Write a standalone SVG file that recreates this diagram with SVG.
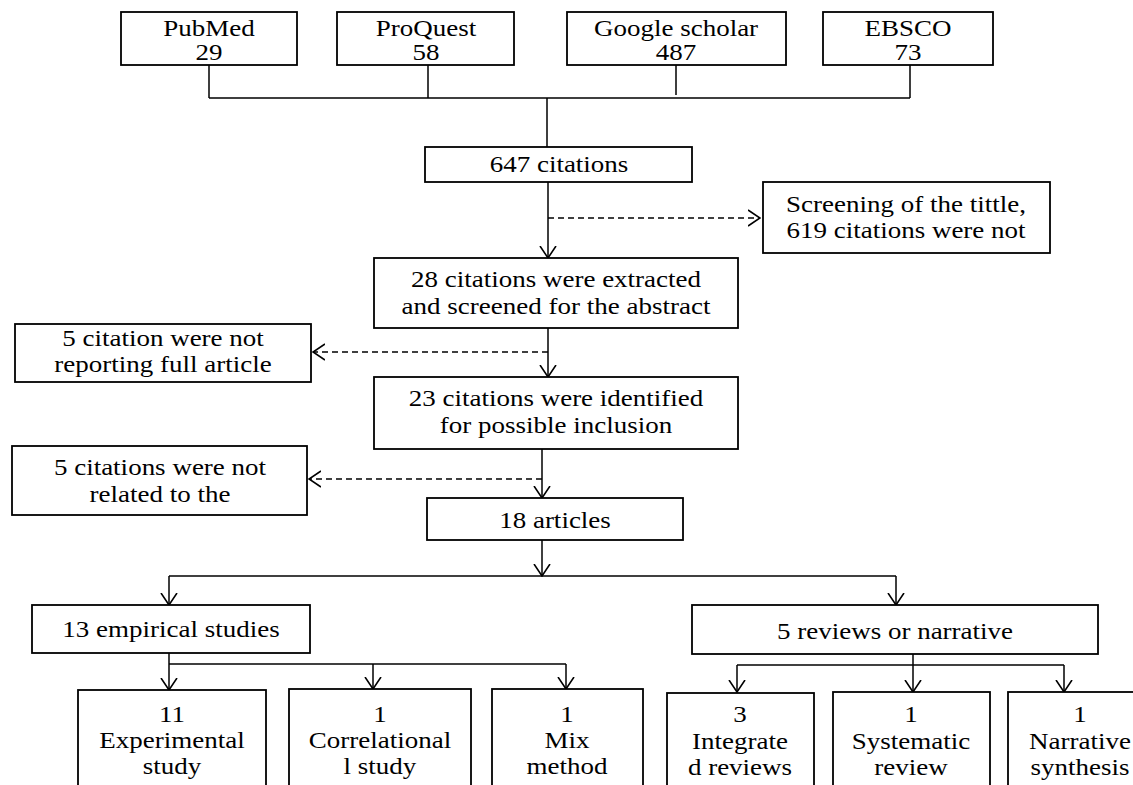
<svg xmlns="http://www.w3.org/2000/svg" width="1133" height="785" viewBox="0 0 1133 785">
<style>
.box{fill:#fff;stroke:#000;stroke-width:1.8}
.t{font-family:"Liberation Serif","Times New Roman",serif;font-size:23px;fill:#000;text-anchor:middle}
.ln{fill:none;stroke:#000;stroke-width:1.5}
.ar{fill:none;stroke:#000;stroke-width:1.5;marker-end:url(#arr)}
.da{fill:none;stroke:#000;stroke-width:1.5;stroke-dasharray:6 4;marker-end:url(#arr)}
</style>
<defs>
<marker id="arr" markerUnits="userSpaceOnUse" viewBox="0 0 13 18" refX="12" refY="9" markerWidth="13" markerHeight="18" orient="auto">
<path d="M0,1 L12,9 L0,17" fill="none" stroke="#000" stroke-width="1.6"/>
</marker>
</defs>
<rect width="1133" height="785" fill="#fff"/>

<g id="connectors">
<path class="ln" d="M209,65 V98 M428,65 V98 M676,65 V95 M910,65 V98 M209,98 H910 M547,98 V147"/>
<path class="ar" d="M548,182 V258"/>
<path class="da" d="M548,218 H760"/>
<path class="ar" d="M548,328 V377"/>
<path class="da" d="M548,352 H313"/>
<path class="ar" d="M542,449 V498"/>
<path class="da" d="M542,479 H309"/>
<path class="ar" d="M542,540 V576"/>
<path class="ln" d="M169,576 H896"/>
<path class="ar" d="M169,576 V605"/>
<path class="ar" d="M896,576 V605"/>
<path class="ar" d="M169,653 V690"/>
<path class="ln" d="M169,664 H566"/>
<path class="ar" d="M373,664 V689"/>
<path class="ar" d="M566,664 V689"/>
<path class="ar" d="M913,654 V692"/>
<path class="ln" d="M737,665 H1064"/>
<path class="ar" d="M737,665 V692"/>
<path class="ar" d="M1064,665 V692"/>
</g>

<g id="pubmed"><rect class="box" x="121" y="12" width="176" height="53"/>
<text class="t" transform="translate(209,0) scale(1.174,1)"><tspan x="0" y="36">PubMed</tspan><tspan x="0" y="60">29</tspan></text></g>
<g id="proquest"><rect class="box" x="337" y="12" width="177" height="53"/>
<text class="t" transform="translate(426,0) scale(1.174,1)"><tspan x="0" y="36">ProQuest</tspan><tspan x="0" y="60">58</tspan></text></g>
<g id="google"><rect class="box" x="567" y="12" width="219" height="53"/>
<text class="t" transform="translate(676,0) scale(1.174,1)"><tspan x="0" y="36">Google scholar</tspan><tspan x="0" y="60">487</tspan></text></g>
<g id="ebsco"><rect class="box" x="823" y="12" width="170" height="53"/>
<text class="t" transform="translate(908,0) scale(1.174,1)"><tspan x="0" y="36">EBSCO</tspan><tspan x="0" y="60">73</tspan></text></g>

<g id="n647"><rect class="box" x="425" y="147" width="267" height="35"/>
<text class="t" transform="translate(559,0) scale(1.174,1)"><tspan x="0" y="172">647 citations</tspan></text></g>

<g id="screening"><rect class="box" x="763" y="182" width="287" height="71"/>
<text class="t" transform="translate(906,0) scale(1.174,1)"><tspan x="0" y="212">Screening of the tittle,</tspan><tspan x="0" y="238">619 citations were not</tspan></text></g>

<g id="n28"><rect class="box" x="374" y="258" width="364" height="70"/>
<text class="t" transform="translate(556,0) scale(1.174,1)"><tspan x="0" y="287">28 citations were extracted</tspan><tspan x="0" y="314">and screened for the abstract</tspan></text></g>

<g id="excl1"><rect class="box" x="15" y="324" width="296" height="58"/>
<text class="t" transform="translate(163,0) scale(1.174,1)"><tspan x="0" y="346">5 citation were not</tspan><tspan x="0" y="372">reporting full article</tspan></text></g>

<g id="n23"><rect class="box" x="374" y="377" width="364" height="72"/>
<text class="t" transform="translate(556,0) scale(1.174,1)"><tspan x="0" y="406">23 citations were identified</tspan><tspan x="0" y="433">for possible inclusion</tspan></text></g>

<g id="excl2"><rect class="box" x="12" y="446" width="295" height="69"/>
<text class="t" transform="translate(160,0) scale(1.174,1)"><tspan x="0" y="475">5 citations were not</tspan><tspan x="0" y="502">related to the</tspan></text></g>

<g id="n18"><rect class="box" x="427" y="498" width="256" height="42"/>
<text class="t" transform="translate(555,0) scale(1.174,1)"><tspan x="0" y="528">18 articles</tspan></text></g>

<g id="empirical"><rect class="box" x="32" y="605" width="278" height="48"/>
<text class="t" transform="translate(171,0) scale(1.174,1)"><tspan x="0" y="637">13 empirical studies</tspan></text></g>

<g id="reviews"><rect class="box" x="692" y="605" width="406" height="49"/>
<text class="t" transform="translate(895,0) scale(1.174,1)"><tspan x="0" y="639">5 reviews or narrative</tspan></text></g>

<g id="experimental"><rect class="box" x="78" y="690" width="188" height="120"/>
<text class="t" transform="translate(172,0) scale(1.174,1)"><tspan x="0" y="722">11</tspan><tspan x="0" y="748">Experimental</tspan><tspan x="0" y="774">study</tspan></text></g>

<g id="correlational"><rect class="box" x="289" y="689" width="182" height="120"/>
<text class="t" transform="translate(380,0) scale(1.174,1)"><tspan x="0" y="722">1</tspan><tspan x="0" y="748">Correlational</tspan><tspan x="0" y="774">l study</tspan></text></g>

<g id="mix"><rect class="box" x="492" y="689" width="151" height="120"/>
<text class="t" transform="translate(567,0) scale(1.174,1)"><tspan x="0" y="722">1</tspan><tspan x="0" y="748">Mix</tspan><tspan x="0" y="774">method</tspan></text></g>

<g id="integrate"><rect class="box" x="667" y="693" width="147" height="120"/>
<text class="t" transform="translate(740,0) scale(1.174,1)"><tspan x="0" y="722">3</tspan><tspan x="0" y="749">Integrate</tspan><tspan x="0" y="775">d reviews</tspan></text></g>

<g id="systematic"><rect class="box" x="833" y="692" width="157" height="120"/>
<text class="t" transform="translate(911,0) scale(1.174,1)"><tspan x="0" y="722">1</tspan><tspan x="0" y="749">Systematic</tspan><tspan x="0" y="775">review</tspan></text></g>

<g id="narrative"><rect class="box" x="1008" y="692" width="144" height="120"/>
<text class="t" transform="translate(1080,0) scale(1.174,1)"><tspan x="0" y="722">1</tspan><tspan x="0" y="749">Narrative</tspan><tspan x="0" y="775">synthesis</tspan></text></g>
</svg>
